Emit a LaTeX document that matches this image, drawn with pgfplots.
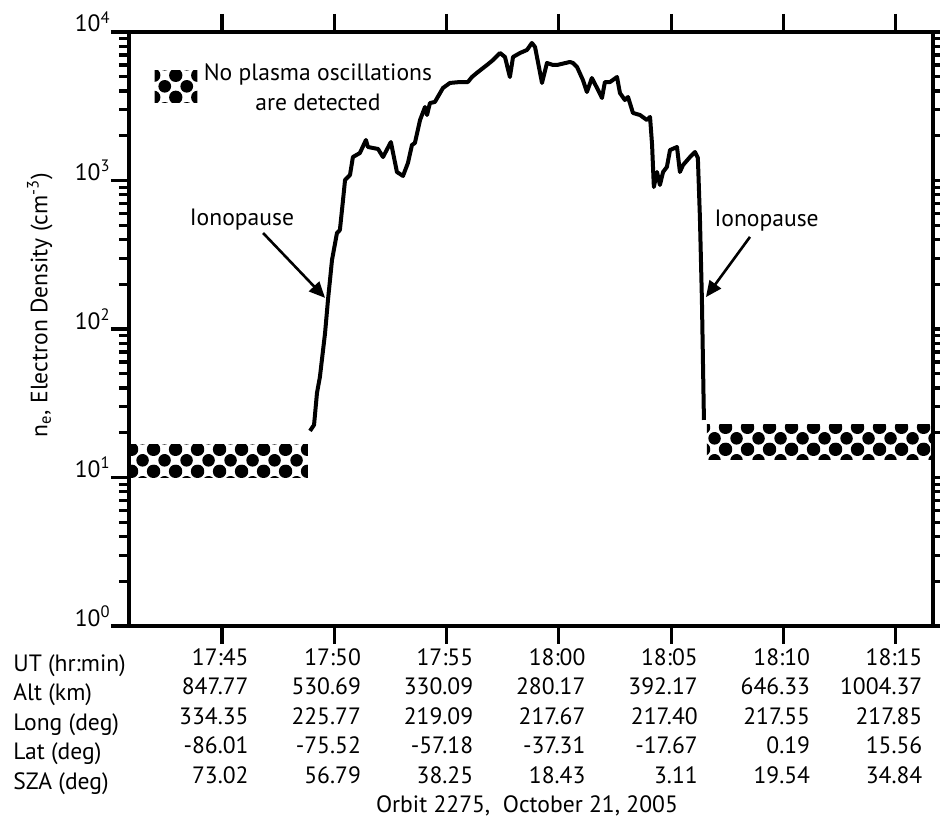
\documentclass[border=0pt]{standalone}
\usepackage{fontspec}
\setmainfont{PT Sans}
\usepackage{pgfplots}
\pgfplotsset{compat=1.18}
\usetikzlibrary{patterns,arrows.meta}

% big black dots on white, as in the "no oscillations" boxes
\pgfdeclarepatternformonly{bigdots}{\pgfpointorigin}{\pgfqpoint{11pt}{11pt}}{\pgfqpoint{11pt}{11pt}}{%
  \pgfpathcircle{\pgfqpoint{5.5pt}{5.5pt}}{3.25pt}%
  \pgfpathcircle{\pgfqpoint{0pt}{0pt}}{3.25pt}%
  \pgfpathcircle{\pgfqpoint{11pt}{0pt}}{3.25pt}%
  \pgfpathcircle{\pgfqpoint{0pt}{11pt}}{3.25pt}%
  \pgfpathcircle{\pgfqpoint{11pt}{11pt}}{3.25pt}%
  \pgfusepath{fill}}

\newcommand{\lblfont}{\fontsize{11.8}{14.75}\selectfont}

\begin{document}
\begin{tikzpicture}
\useasboundingbox (-64.5pt,-98.5pt) rectangle (405.5pt,313pt);
\begin{axis}[
  scale only axis,
  width=402pt, height=297pt,
  clip=false,
  ymode=log,
  xmin=40.86, xmax=76.66,
  ymin=1, ymax=10000,
  axis line style={line width=2pt},
  tick align=outside,
  major tick length=9pt,
  minor tick length=5pt,
  every tick/.style={line width=1.6pt, black},
  xtick={45,50,55,60,65,70,75},
  xticklabels={
    {\strut 17:45\\847.77\\334.35\\-86.01\\73.02},
    {\strut 17:50\\530.69\\225.77\\-75.52\\56.79},
    {\strut 17:55\\330.09\\219.09\\-57.18\\38.25},
    {\strut 18:00\\280.17\\217.67\\-37.31\\18.43},
    {\strut 18:05\\392.17\\217.40\\-17.67\\3.11},
    {\strut 18:10\\646.33\\217.55\\0.19\\19.54},
    {\strut 18:15\\1004.37\\217.85\\15.56\\34.84}},
  xticklabel style={font=\lblfont, align=right, anchor=north east, inner sep=0pt, xshift=13.5pt},
  ytick={1,10,100,1000,10000},
  yticklabels={10\textsuperscript{0},10\textsuperscript{1},10\textsuperscript{2},10\textsuperscript{3},10\textsuperscript{4}},
  yticklabel style={font=\lblfont, anchor=base east, inner sep=0pt},
]

% no plasma oscillations detected
\addplot[draw=none, pattern=bigdots] coordinates {
  (40.86,10) (48.83,10) (48.83,16.8) (40.86,16.8)
} -- cycle;
\addplot[draw=none, pattern=bigdots] coordinates {
  (66.59,13.3) (76.66,13.3) (76.66,22.9) (66.59,22.9)
} -- cycle;

% electron density
\addplot[black, line width=2pt, line join=round] table {
48.92 20.6
49.10 22.6
49.23 37.1
49.36 47.5
49.59 94
49.72 157
49.90 292
50.12 443
50.25 464
50.39 739
50.48 1008
50.70 1089
50.83 1439
51.14 1531
51.41 1875
51.50 1681
51.95 1630
52.17 1439
52.52 1816
52.79 1141
53.06 1073
53.28 1312
53.46 1734
53.59 1789
53.82 2555
54.04 3126
54.13 2762
54.26 3325
54.48 3379
54.84 4198
55.15 4538
55.60 4605
55.95 4605
56.13 4977
56.40 5380
56.80 5997
57.07 6476
57.38 7223
57.60 6790
57.82 4977
57.96 6790
58.27 7223
58.58 7568
58.80 8432
58.94 7925
59.25 4538
59.47 6185
59.74 5997
59.92 5997
60.49 6283
60.63 6185
60.81 5809
61.07 4752
61.25 3944
61.47 4899
61.70 4198
61.92 3594
62.05 4605
62.28 4605
62.59 4977
62.72 3884
62.94 3483
63.08 3650
63.30 2849
63.61 2762
63.92 2555
64.06 2679
64.15 1750
64.23 904
64.37 1141
64.50 933
64.64 1141
64.81 1233
64.95 1604
65.26 1681
65.39 1141
65.53 1271
65.84 1439
66.06 1556
66.19 1418
66.28 568
66.37 157
66.46 24.4
};

% legend
\path[pattern=bigdots] (rel axis cs:0.032,0.882) rectangle (rel axis cs:0.085,0.936);
\node[font=\lblfont, align=center] at (rel axis cs:0.235,0.907) {No plasma oscillations\\are detected};

% ionopause annotations
\node[font=\lblfont] at (axis cs:45.89,542) {Ionopause};
\draw[line width=1.3pt, -{Triangle[length=8pt,width=7pt]}] (axis cs:46.83,443) -- (axis cs:49.59,162);
\node[font=\lblfont] at (axis cs:69.25,534) {Ionopause};
\draw[line width=1.3pt, -{Triangle[length=8pt,width=7pt]}] (axis cs:68.51,417) -- (axis cs:66.55,164);

% axis title and row names
\node[font=\lblfont, rotate=90] at (rel axis cs:-0.111,0.54) {n\textsubscript{e}, Electron Density (cm\textsuperscript{-3})};
\node[font=\lblfont, align=left, anchor=north west, inner sep=0pt] at (rel axis cs:-0.1443,0) [yshift=-12pt]
  {\strut UT (hr:min)\\Alt (km)\\Long (deg)\\Lat (deg)\\SZA (deg)};
\node[font=\lblfont, anchor=base] at (rel axis cs:0.495,0) [yshift=-93pt] {Orbit 2275,\ \ October 21, 2005};
\end{axis}
\end{tikzpicture}
\end{document}
